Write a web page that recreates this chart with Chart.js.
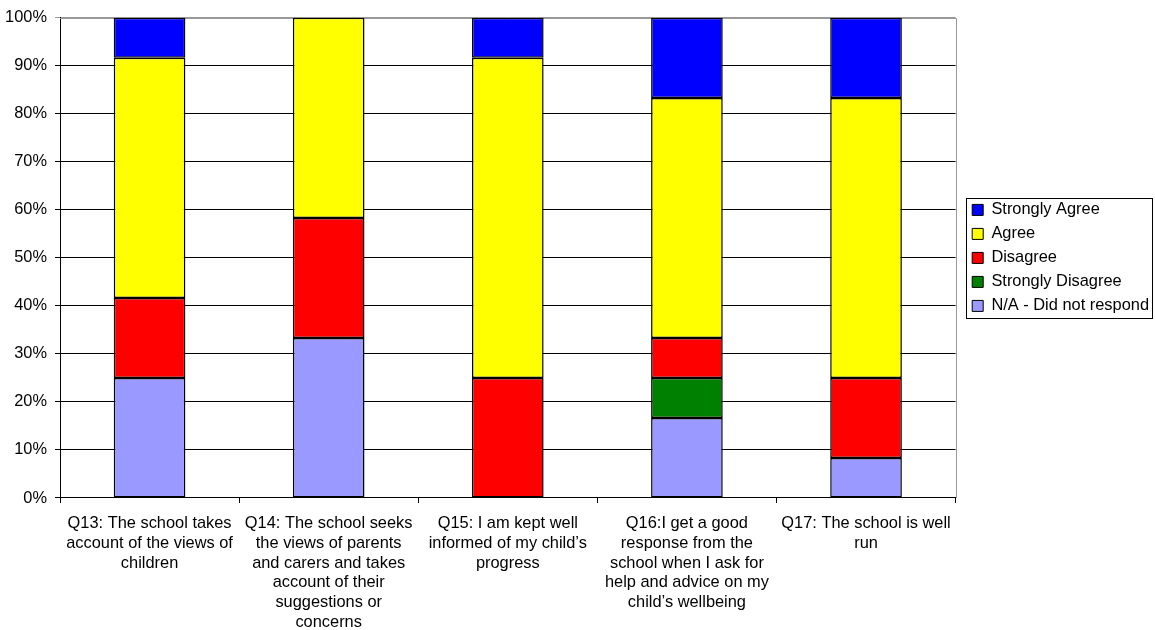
<!DOCTYPE html>
<html>
<head>
<meta charset="utf-8">
<script src="https://cdn.jsdelivr.net/npm/chart.js@4"></script>
<style>
  body { margin: 0; background: #fff; }
  #wrap { width: 1155px; height: 630px; }
</style>
</head>
<body>
<div id="wrap"><canvas id="surveyChart" width="1155" height="630"></canvas></div>
<script>
// survey questions (wrapped as in the original)
const questions = [
  ['Q13: The school takes', 'account of the views of', 'children'],
  ['Q14: The school seeks', 'the views of parents', 'and carers and takes', 'account of their', 'suggestions or', 'concerns'],
  ['Q15: I am kept well', 'informed of my child\u2019s', 'progress'],
  ['Q16:I get a good', 'response from the', 'school when I ask for', 'help and advice on my', 'child\u2019s wellbeing'],
  ['Q17: The school is well', 'run']
];

// % of responses, stacked bottom to top
const notResponded     = [25, 33.33, 0, 16.67, 8.33];
const stronglyDisagree = [0, 0, 0, 8.33, 0];
const disagree         = [16.67, 25, 25, 8.33, 16.67];
const agree            = [50, 41.67, 66.67, 50, 58.33];
const stronglyAgree    = [8.33, 0, 8.33, 16.67, 16.67];

const yTicks = [0, 10, 20, 30, 40, 50, 60, 70, 80, 90, 100];

const font = { family: 'Liberation Sans, Arial, sans-serif', size: 16.4 };

function bar(label, data, colour) {
  return {
    label: label,
    data: data,
    backgroundColor: colour,
    borderColor: '#000',
    borderWidth: 1.5,
    borderSkipped: false,
    categoryPercentage: 1,
    barPercentage: 0.4
  };
}

// grey frame on top and right of the plot area, box round the legend
const frames = {
  id: 'frames',
  afterLayout(chart) {
    // legend sits a little further from the plot than chart.js puts it
    const lg = chart.legend;
    lg.left += 9;
    lg.right += 9;
    lg.legendHitBoxes.forEach(h => { h.left += 9; });
  },
  beforeDatasetsDraw(chart) {
    const { ctx, chartArea: a } = chart;
    ctx.save();
    ctx.strokeStyle = '#999';
    ctx.lineWidth = 1;
    ctx.beginPath();
    ctx.moveTo(a.left, Math.round(a.top) + 0.5);
    ctx.lineTo(Math.round(a.right) + 0.5, Math.round(a.top) + 0.5);
    ctx.lineTo(Math.round(a.right) + 0.5, a.bottom);
    ctx.stroke();
    ctx.restore();
  },
  afterDraw(chart) {
    const boxes = chart.legend.legendHitBoxes;
    if (!boxes || !boxes.length) return;
    const l = chart.legend.left + 7.6 - 6;
    const t = Math.min(...boxes.map(b => b.top)) - 4;
    const b = Math.max(...boxes.map(b => b.top + b.height)) + 4;
    const { ctx } = chart;
    ctx.save();
    ctx.strokeStyle = '#000';
    ctx.lineWidth = 1;
    ctx.strokeRect(Math.round(l) + 0.5, Math.round(t) + 0.5, 186, Math.round(b - t));
    ctx.restore();
  }
};

new Chart(document.getElementById('surveyChart'), {
  type: 'bar',
  data: {
    labels: questions,
    datasets: [
      bar('N/A - Did not respond', notResponded, '#9999FF'),
      bar('Strongly Disagree', stronglyDisagree, '#008000'),
      bar('Disagree', disagree, '#FF0000'),
      bar('Agree', agree, '#FFFF00'),
      bar('Strongly Agree', stronglyAgree, '#0000FF')
    ]
  },
  options: {
    responsive: false,
    animation: false,
    layout: { padding: { top: 6, right: 5, left: 0, bottom: 0 } },
    plugins: {
      tooltip: { enabled: false },
      legend: {
        position: 'right',
        fullSize: false,
        reverse: true,
        labels: {
          color: '#000',
          font: font,
          boxWidth: 11,
          boxHeight: 11,
          padding: 7.6,
          generateLabels(chart) {
            return chart.data.datasets.map((ds, i) => ({
              text: ds.label,
              fillStyle: ds.backgroundColor,
              strokeStyle: '#000',
              lineWidth: 1,
              datasetIndex: i,
              hidden: false
            }));
          }
        }
      }
    },
    scales: {
      x: {
        stacked: true,
        offset: true,
        border: { color: '#000' },
        grid: { offset: true, drawOnChartArea: false, drawTicks: true, tickLength: 5, color: '#000' },
        ticks: { color: '#000', font: font, maxRotation: 0, autoSkip: false, padding: 11 },
        afterFit(axis) { axis.height = 132; }
      },
      y: {
        stacked: true,
        min: 0,
        max: 100,
        afterBuildTicks(axis) { axis.ticks = yTicks.map(v => ({ value: v })); },
        border: { color: '#000' },
        grid: {
          color: ctx => (ctx.tick && ctx.tick.value === 100 ? '#999' : '#000'),
          tickLength: 5
        },
        ticks: { color: '#000', font: font, padding: 8, callback: v => v + '%' },
        afterFit(axis) { axis.width = 60; }
      }
    }
  },
  plugins: [frames]
});
</script>
</body>
</html>
